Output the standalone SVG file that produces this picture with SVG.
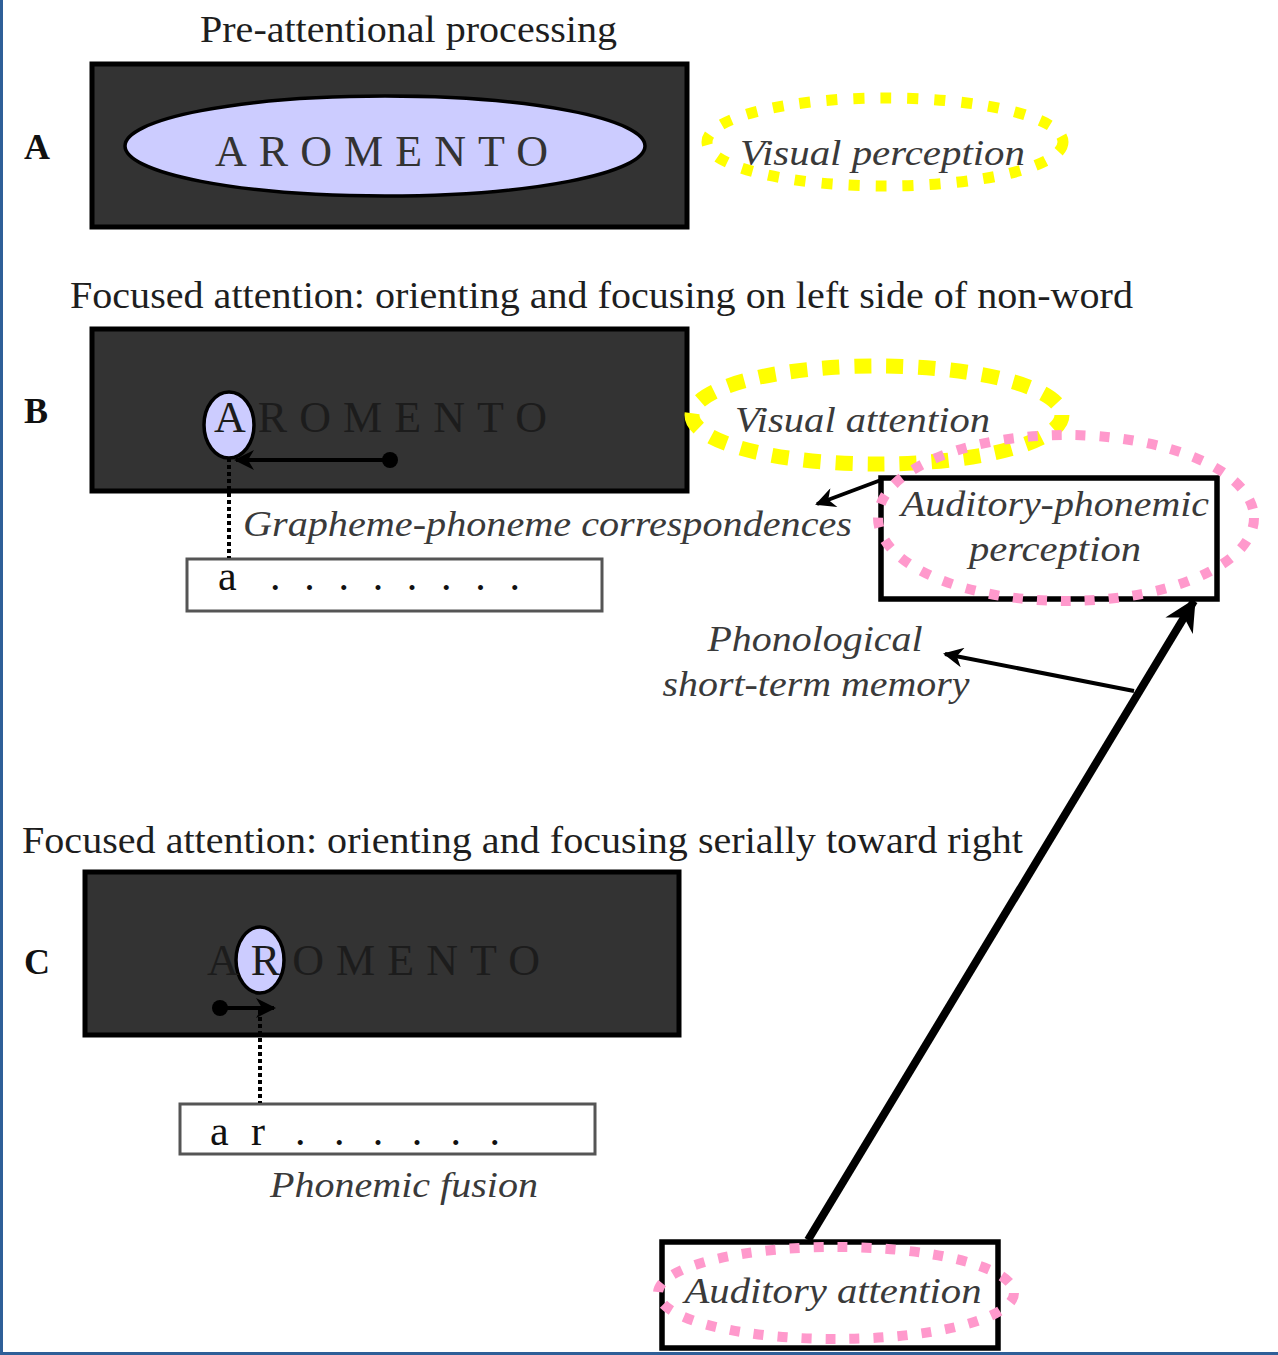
<svg xmlns="http://www.w3.org/2000/svg" width="1278" height="1355" viewBox="0 0 1278 1355">
  <style>
    .title { font-family: "Liberation Serif", "Times New Roman", serif; font-size: 38px; fill: #1e1e1e; }
    .panel { font-family: "Liberation Serif", "Times New Roman", serif; font-size: 36px; font-weight: bold; fill: #111; }
    .label { font-family: "Liberation Serif", "Times New Roman", serif; font-style: italic; font-size: 36px; fill: #3a3a3a; }
    .word  { font-family: "Liberation Serif", "Times New Roman", serif; font-size: 44px; }
    .letters { font-family: "Liberation Serif", "Times New Roman", serif; font-size: 42px; fill: #111; }
    .screen { fill: #333333; stroke: #000; stroke-width: 5; }
    .lens { fill: #ccccff; stroke: #000; stroke-width: 3.5; }
    .strip { fill: #fff; stroke: #555; stroke-width: 3; }
    .box { fill: #fff; stroke: #000; stroke-width: 5.5; }
    .vis-dots { fill: none; stroke: #ffff00; stroke-width: 11; stroke-dasharray: 11 16; }
    .vis-dash { fill: none; stroke: #ffff00; stroke-width: 15; stroke-dasharray: 17 15; }
    .aud-dots { fill: none; stroke: #ff99cc; stroke-width: 10; stroke-dasharray: 10 14; }
    .link { fill: none; stroke: #000; stroke-width: 4; }
    .link-bold { fill: none; stroke: #000; stroke-width: 8; }
    .trace { fill: none; stroke: #000; stroke-width: 4; stroke-dasharray: 4 3; }
  </style>
  <defs>
    <marker id="head" viewBox="0 0 10 10" refX="9" refY="5" markerWidth="5.5" markerHeight="5" orient="auto">
      <path d="M0,0 L10,5 L0,10 L3,5 Z" fill="#000"/>
    </marker>
    <marker id="head-bold" viewBox="0 0 10 10" refX="9" refY="5" markerWidth="4.2" markerHeight="4" orient="auto">
      <path d="M0,0 L10,5 L0,10 L3,5 Z" fill="#000"/>
    </marker>
  </defs>

  <!-- page frame -->
  <rect x="0" y="0" width="1278" height="1355" fill="#fff"/>
  <rect x="0" y="0" width="3" height="1355" fill="#2f5f98"/>
  <rect x="0" y="1352" width="1278" height="3" fill="#2f5f98"/>

  <!-- A: pre-attentional processing -->
  <g id="panel-a">
    <text class="title" x="200" y="42" textLength="417" lengthAdjust="spacingAndGlyphs">Pre-attentional processing</text>
    <text class="panel" x="24" y="159">A</text>
    <rect class="screen" x="92" y="64" width="595" height="163"/>
    <ellipse class="lens" cx="385" cy="146" rx="260" ry="50"/>
    <text class="word" x="215" y="166" fill="#333" textLength="333" lengthAdjust="spacing">AROMENTO</text>
  </g>
  <g id="visual-perception">
    <ellipse class="vis-dots" cx="885" cy="142" rx="178" ry="44"/>
    <text class="label" x="740" y="165" textLength="285" lengthAdjust="spacingAndGlyphs">Visual perception</text>
  </g>

  <!-- B: focusing on the left side -->
  <g id="panel-b">
    <text class="title" x="70" y="308" textLength="1063" lengthAdjust="spacingAndGlyphs">Focused attention: orienting and focusing on left side of non-word</text>
    <text class="panel" x="24" y="423">B</text>
    <rect class="screen" x="92" y="329" width="595" height="162"/>
    <ellipse class="lens" cx="229" cy="425" rx="25" ry="33"/>
    <text class="word" x="214" y="432" fill="#1c1c1c" textLength="333" lengthAdjust="spacing">AROMENTO</text>
    <circle cx="390" cy="460" r="8" fill="#000"/>
  </g>
  <g id="grapheme-strip">
    <rect class="strip" x="187" y="559" width="415" height="52"/>
    <text class="letters" x="218" y="590">a</text>
    <text class="letters" x="270" y="590" textLength="250" lengthAdjust="spacing">. . . . . . . .</text>
  </g>
  <g id="grapheme-label">
    <text class="label" x="243" y="536" textLength="609" lengthAdjust="spacingAndGlyphs">Grapheme-phoneme correspondences</text>
  </g>
  <g id="visual-attention">
    <ellipse class="vis-dash" cx="877" cy="415" rx="185" ry="49"/>
    <text class="label" x="735" y="432" textLength="255" lengthAdjust="spacingAndGlyphs">Visual attention</text>
  </g>
  <g id="auditory-phonemic">
    <rect class="box" x="881" y="478" width="336" height="121"/>
    <ellipse class="aud-dots" cx="1066" cy="518" rx="188" ry="83"/>
    <text class="label" x="1055" y="516" text-anchor="middle" textLength="308" lengthAdjust="spacingAndGlyphs">Auditory-phonemic</text>
    <text class="label" x="1055" y="561" text-anchor="middle" textLength="172" lengthAdjust="spacingAndGlyphs">perception</text>
  </g>
  <g id="phonological-memory">
    <text class="label" x="815" y="651" text-anchor="middle" textLength="215" lengthAdjust="spacingAndGlyphs">Phonological</text>
    <text class="label" x="816" y="696" text-anchor="middle" textLength="307" lengthAdjust="spacingAndGlyphs">short-term memory</text>
  </g>

  <!-- C: serial shift toward the right -->
  <g id="panel-c">
    <text class="title" x="22" y="853" textLength="1001" lengthAdjust="spacingAndGlyphs">Focused attention: orienting and focusing serially toward right</text>
    <text class="panel" x="24" y="974">C</text>
    <rect class="screen" x="85" y="872" width="594" height="163"/>
    <ellipse class="lens" cx="260" cy="960" rx="24" ry="33"/>
    <text class="word" x="207" y="975" fill="#1c1c1c" textLength="333" lengthAdjust="spacing">AROMENTO</text>
    <circle cx="220" cy="1008" r="8" fill="#000"/>
  </g>
  <g id="fusion-strip">
    <rect class="strip" x="180" y="1104" width="415" height="50"/>
    <text class="letters" x="210" y="1145" textLength="55" lengthAdjust="spacing">a r</text>
    <text class="letters" x="295" y="1145" textLength="205" lengthAdjust="spacing">. . . . . .</text>
  </g>
  <g id="fusion-label">
    <text class="label" x="270" y="1197" textLength="268" lengthAdjust="spacingAndGlyphs">Phonemic fusion</text>
  </g>
  <g id="auditory-attention">
    <rect class="box" x="662" y="1242" width="336" height="106"/>
    <ellipse class="aud-dots" cx="836" cy="1293" rx="178" ry="46"/>
    <text class="label" x="833" y="1303" text-anchor="middle" textLength="297" lengthAdjust="spacingAndGlyphs">Auditory attention</text>
  </g>

  <!-- connectors -->
  <g id="connectors">
    <line class="link" x1="390" y1="460" x2="236" y2="460" marker-end="url(#head)"/>
    <line class="trace" x1="229" y1="458" x2="229" y2="558"/>
    <line class="link" x1="220" y1="1008" x2="274" y2="1008" marker-end="url(#head)"/>
    <line class="trace" x1="260" y1="1010" x2="260" y2="1103"/>
    <line class="link" x1="881" y1="480" x2="817" y2="504" marker-end="url(#head)"/>
    <line class="link" x1="1134" y1="691" x2="945" y2="654" marker-end="url(#head)"/>
    <line class="link-bold" x1="808" y1="1240" x2="1194" y2="601" marker-end="url(#head-bold)"/>
  </g>
</svg>
